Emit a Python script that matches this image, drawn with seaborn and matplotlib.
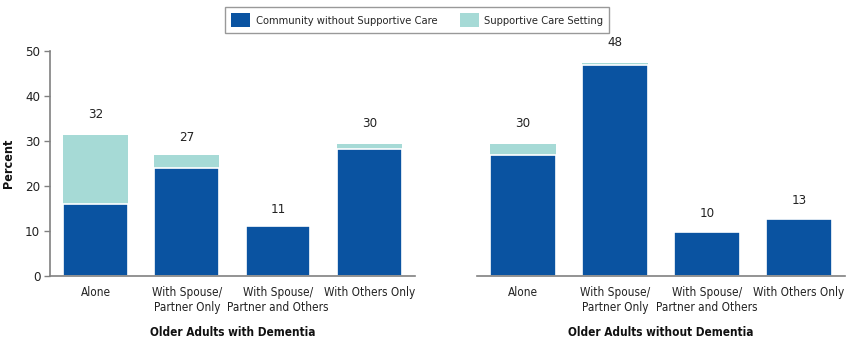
import matplotlib
matplotlib.use("Agg")
import matplotlib.pyplot as plt
import seaborn as sns
import pandas as pd
from matplotlib.patches import Patch

categories = ["Alone", "With Spouse/\nPartner Only", "With Spouse/\nPartner and Others", "With Others Only"]
groups = ["Older Adults with Dementia", "Older Adults without Dementia"]
community_dem = [16.1, 23.9, 11.1, 28.2]
supportive_dem = [15.3, 3.1, 0.0, 1.1]
labels_dem = [32, 27, 11, 30]
community_nodem = [26.8, 46.9, 9.7, 12.7]
supportive_nodem = [2.5, 0.4, 0.0, 0.0]
labels_nodem = [30, 48, 10, 13]
series_names = ["Community without Supportive Care", "Supportive Care Setting"]

dark = "#0A53A1"
light = "#A6DAD6"

sns.set_theme(style="white")
plt.rcParams['font.family'] = ['DejaVu Sans']
plt.rcParams['font.stretch'] = 'condensed'

fig = plt.figure(figsize=(8.5, 3.46), dpi=100)
ax1 = fig.add_axes([0.0588, 0.2023, 0.4294, 0.6503])
ax2 = fig.add_axes([0.5612, 0.2023, 0.4330, 0.6503])

datasets = [(ax1, community_dem, supportive_dem, labels_dem, groups[0]),
            (ax2, community_nodem, supportive_nodem, labels_nodem, groups[1])]

for ax, comm, supp, labs, grp in datasets:
    df = pd.DataFrame({"category": categories, "community": comm,
                       "total": [c + s for c, s in zip(comm, supp)], "label": labs})
    sns.barplot(data=df, x="category", y="total", color=light, width=0.71,
                saturation=1, ax=ax, zorder=2, linewidth=0)
    sns.barplot(data=df, x="category", y="community", color=dark, width=0.71,
                saturation=1, ax=ax, zorder=3, edgecolor="white", linewidth=1.2)
    for i, v in enumerate(labs):
        ax.annotate(str(v), (i, v), xytext=(0, 12.5), textcoords="offset points",
                    ha="center", va="center", fontsize=9.5, color="#222222")
    ax.set_ylim(0, 50)
    ax.set_xlim(-0.5, 3.5)
    ax.set_xlabel(grp, fontsize=8.5, fontweight="bold", labelpad=9, color="#111111")
    ax.tick_params(axis="x", length=0, pad=7, labelsize=8.5, colors="#222222")
    for s in ["top", "right"]:
        ax.spines[s].set_visible(False)
    ax.spines["bottom"].set_color("#808080")
    ax.spines["bottom"].set_linewidth(1.2)
    ax.spines["bottom"].set_zorder(5)

ax1.set_yticks([0, 10, 20, 30, 40, 50])
ax1.set_ylabel("Percent", fontsize=9, fontweight="bold", labelpad=7, color="#111111")
ax1.tick_params(axis="y", length=4, width=1, direction="out", left=True, labelsize=9.5,
                colors="#222222", pad=3)
ax1.tick_params(axis="y", color="#808080")
ax1.spines["left"].set_color("#808080")
ax1.spines["left"].set_linewidth(1.2)

ax2.spines["left"].set_visible(False)
ax2.set_yticks([])
ax2.set_ylabel("")

handles = [Patch(facecolor=dark, edgecolor="none", label=series_names[0]),
           Patch(facecolor=light, edgecolor="none", label=series_names[1])]
leg = fig.legend(handles=handles, loc="upper center", bbox_to_anchor=(0.491, 0.995), ncol=2,
                 frameon=True, fancybox=False, fontsize=8, handlelength=1.7, handleheight=1.5,
                 columnspacing=2.0, handletextpad=0.5, borderpad=0.55)
leg.get_frame().set_edgecolor("#808080")
leg.get_frame().set_linewidth(1.0)

fig.savefig("out.png", dpi=100)
